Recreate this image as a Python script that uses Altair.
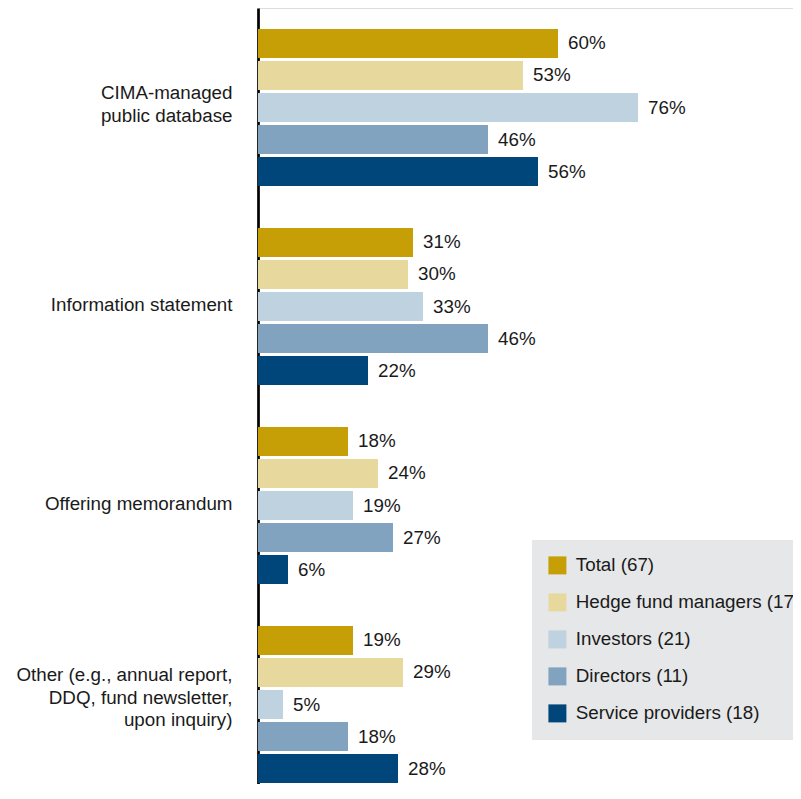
import altair as alt
import pandas as pd

categories = [
    "CIMA-managed|public database",
    "Information statement",
    "Offering memorandum",
    "Other (e.g., annual report,|DDQ, fund newsletter,|upon inquiry)",
]
series = [
    "Total (67)",
    "Hedge fund managers (17)",
    "Investors (21)",
    "Directors (11)",
    "Service providers (18)",
]
colors = ["#C69F06", "#E7D99D", "#BFD2E0", "#81A3BF", "#00467A"]
values = {
    "Total (67)": [60, 31, 18, 19],
    "Hedge fund managers (17)": [53, 30, 24, 29],
    "Investors (21)": [76, 33, 19, 5],
    "Directors (11)": [46, 46, 27, 18],
    "Service providers (18)": [56, 22, 6, 28],
}

rows = []
for s in series:
    for c, v in zip(categories, values[s]):
        rows.append({"category": c, "series": s, "value": v, "label": f"{v}%"})
df = pd.DataFrame(rows)

FONT = "Liberation Sans"
FS = 18.8

y_enc = alt.Y(
    "category:N",
    sort=categories,
    scale=alt.Scale(range=[0, 796], paddingInner=0, paddingOuter=0),
    axis=alt.Axis(
        title=None,
        ticks=False,
        domain=True,
        domainColor="#000000",
        domainWidth=2.7,
        labelAlign="right",
        labelPadding=26,
        labelFontSize=FS,
        labelColor="#1a1a1a",
        labelFont=FONT,
        labelLineHeight=22.5,
        labelLimit=400,
        labelExpr="split(datum.label, '|')",
        labelOffset={
            "condition": [
                {"test": "indexof(datum.value, 'CIMA') == 0", "value": -14.5},
                {"test": "indexof(datum.value, 'Other') == 0", "value": -29.5},
            ],
            "value": -1.5,
        },
        grid=False,
    ),
)
yoff_enc = alt.YOffset(
    "series:N",
    sort=series,
    scale=alt.Scale(paddingInner=0.094, paddingOuter=0.656),
)
x_enc = alt.X(
    "value:Q",
    scale=alt.Scale(domain=[0, 107], nice=False),
    axis=None,
)

base = alt.Chart(df)

bars = base.mark_bar(cornerRadius=0).encode(
    y=y_enc,
    yOffset=yoff_enc,
    x=x_enc,
    color=alt.Color(
        "series:N",
        sort=series,
        scale=alt.Scale(domain=series, range=colors),
        legend=alt.Legend(
            title=None,
            orient="none",
            legendX=274,
            legendY=532,
            direction="vertical",
            fillColor="#E6E7E8",
            padding=16,
            rowPadding=17,
            symbolType="square",
            symbolSize=324,
            symbolStrokeWidth=0,
            symbolOpacity=1,
            labelFontSize=FS,
            labelFont=FONT,
            labelColor="#1a1a1a",
            labelOffset=9,
            labelLimit=400,
        ),
    ),
)

texts = base.mark_text(
    align="left", baseline="middle", dx=10, fontSize=FS, font=FONT, color="#1a1a1a"
).encode(
    y=alt.Y("category:N", sort=categories),
    yOffset=alt.YOffset("series:N", sort=series),
    x=alt.X("value:Q"),
    text="label:N",
)

chart = (
    alt.layer(bars, texts)
    .properties(
        width=535,
        height=776,
        autosize=alt.AutoSizeParams(type="none"),
        padding={"left": 250, "top": 0, "right": 0, "bottom": 0},
    )
    .configure_view(stroke=None)
    .configure(font=FONT)
)

chart.save("out.html", embed_options={"renderer": "svg", "actions": False})
